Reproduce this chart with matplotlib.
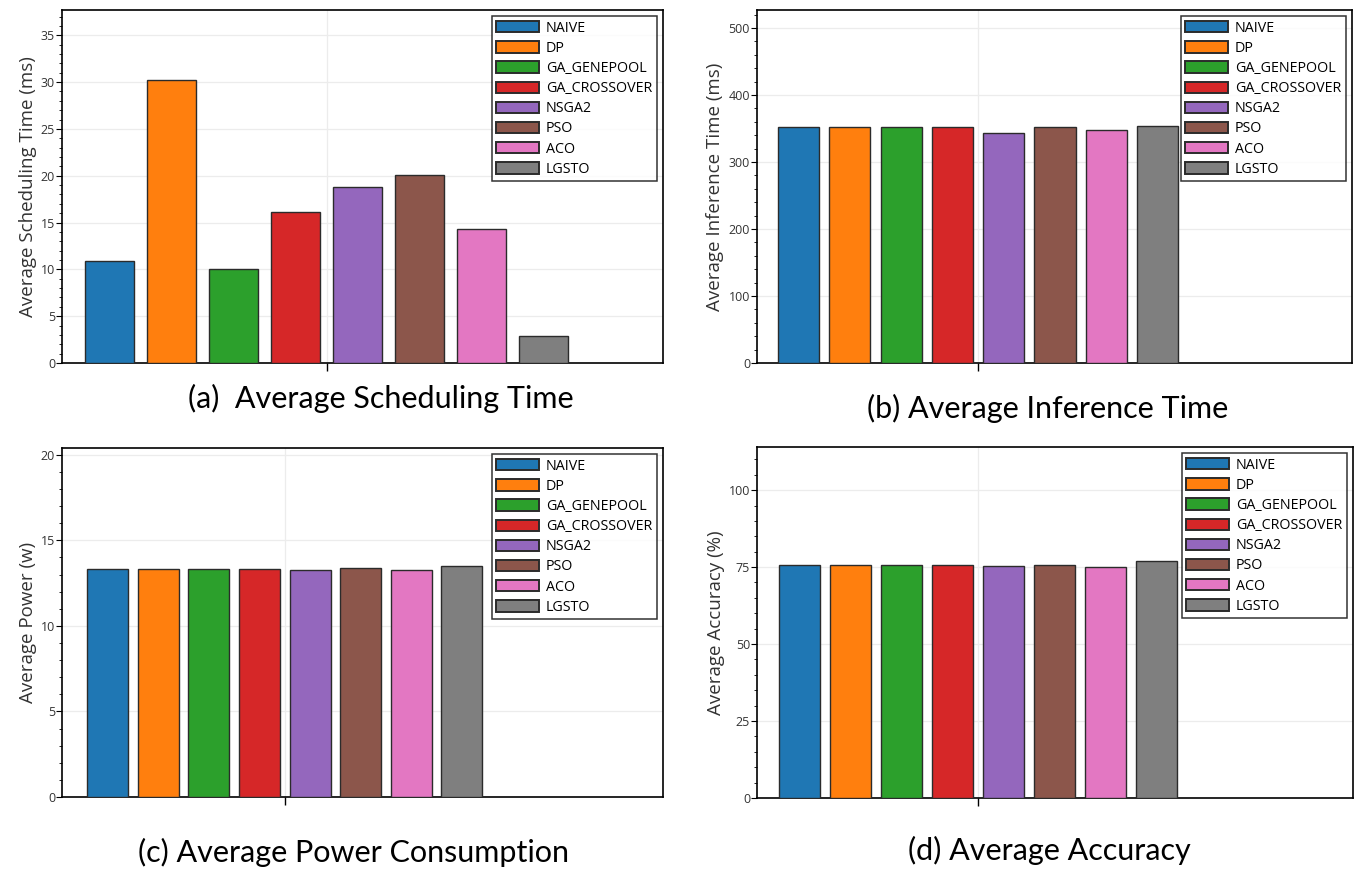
import matplotlib

matplotlib.use("Agg")
import matplotlib.pyplot as plt
from matplotlib.ticker import MultipleLocator

METHODS = ["NAIVE", "DP", "GA_GENEPOOL", "GA_CROSSOVER", "NSGA2", "PSO", "ACO", "LGSTO"]
COLORS = ["#1f77b4", "#ff7f0e", "#2ca02c", "#d62728", "#9467bd", "#8c564b", "#e377c2", "#7f7f7f"]

sched_time = [10.9, 30.2, 10.0, 16.1, 18.8, 20.1, 14.3, 2.9]
infer_time = [352, 352, 352, 352, 343, 352, 348, 354]
power = [13.35, 13.35, 13.35, 13.35, 13.27, 13.41, 13.27, 13.53]
accuracy = [75.6, 75.6, 75.6, 75.6, 75.3, 75.75, 75.0, 76.9]

W, H = 1370, 876


def px_axes(fig, left, top, right, bottom):
    return fig.add_axes([left / W, 1 - bottom / H, (right - left) / W, (bottom - top) / H])


def draw(ax, values, ylabel, ylim, major, minor, xlim, width):
    n = len(values)
    for i, (v, c, name) in enumerate(zip(values, COLORS, METHODS)):
        ax.bar((i - (n - 1) / 2) * 0.1, v, width=width, color=c, edgecolor="#2b2b2b",
               linewidth=1.0, label=name, zorder=3)
    ax.set_xlim(*xlim)
    ax.set_ylim(*ylim)
    ax.set_xticks([0])
    ax.set_xticklabels([""])
    ax.yaxis.set_major_locator(MultipleLocator(major))
    ax.yaxis.set_minor_locator(MultipleLocator(minor))
    ax.tick_params(axis="y", which="major", length=4, width=0.8, labelsize=9,
                   labelcolor="#333333", pad=1)
    ax.tick_params(axis="y", which="minor", length=2, width=0.6)
    ax.tick_params(axis="x", length=6, width=1.0)
    ax.grid(True, which="major", color="#ececec", linewidth=0.9, zorder=0)
    ax.set_axisbelow(True)
    for sp in ax.spines.values():
        sp.set_linewidth(1.2)
        sp.set_color("black")
    ax.set_ylabel(ylabel, fontsize=13.5, color="#333333", labelpad=3)
    leg = ax.legend(loc="upper right", fontsize=10.3, frameon=True, fancybox=False,
                    edgecolor="black", handlelength=3.0, handleheight=0.85,
                    borderpad=0.3, labelspacing=0.36, handletextpad=0.5,
                    borderaxespad=0.45)
    leg.get_frame().set_linewidth(1.1)
    for p in leg.get_patches():
        p.set_linewidth(1.4)
    return ax


plt.rcParams.update({"font.family": ["Open Sans", "DejaVu Sans"]})

fig = plt.figure(figsize=(W / 100, H / 100), dpi=100)

ax_a = px_axes(fig, 62, 10, 663, 363)
draw(ax_a, sched_time, "Average Scheduling Time (ms)", (0, 37.7), 5, 1,
     (-0.427, 0.542), 0.079)

ax_b = px_axes(fig, 757, 10, 1352, 363)
draw(ax_b, infer_time, "Average Inference Time (ms)", (0, 527), 100, 20,
     (-0.431, 0.729), 0.08)

ax_c = px_axes(fig, 62, 448, 663, 797)
draw(ax_c, power, "Average Power (w)", (0, 20.4), 5, 1,
     (-0.44, 0.747), 0.081)

ax_d = px_axes(fig, 757, 447, 1353, 798)
draw(ax_d, accuracy, "Average Accuracy (%)", (0, 114), 25, 5,
     (-0.433, 0.735), 0.079)

cap = dict(fontsize=22, ha="center", va="center", family=["Lato", "DejaVu Sans"])
fig.text(381 / W, 1 - 398 / H, "(a)  Average Scheduling Time", **cap)
fig.text(1048 / W, 1 - 408 / H, "(b) Average Inference Time", **cap)
fig.text(354 / W, 1 - 852 / H, "(c) Average Power Consumption", **cap)
fig.text(1049 / W, 1 - 850 / H, "(d) Average Accuracy", **cap)

fig.savefig("out.png", dpi=100)
